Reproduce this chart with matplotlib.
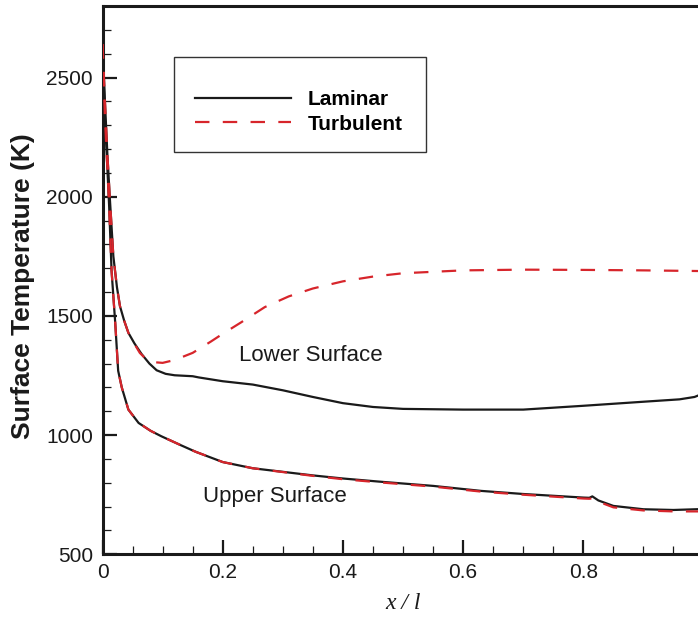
import numpy as np
import matplotlib
matplotlib.use("Agg")
import matplotlib.pyplot as plt
from matplotlib.ticker import MultipleLocator
from matplotlib.patches import Rectangle

# Lower surface, laminar
lower_lam_x = [0.0, 0.004, 0.008, 0.012, 0.018, 0.024, 0.029, 0.036, 0.043, 0.053, 0.065,
               0.078, 0.09, 0.105, 0.12, 0.15, 0.16, 0.2, 0.25, 0.3, 0.35, 0.4, 0.45, 0.5,
               0.6, 0.7, 0.8, 0.9, 0.96, 0.985, 1.0]
lower_lam_T = [2640, 2400, 2180, 2000, 1750, 1620, 1541, 1480, 1429, 1385, 1340,
               1300, 1272, 1257, 1251, 1247, 1242, 1226, 1212, 1188, 1160, 1134, 1118, 1110,
               1107, 1107, 1123, 1140, 1150, 1160, 1175]

# Lower surface, turbulent
lower_turb_x = [0.0, 0.004, 0.008, 0.012, 0.018, 0.024, 0.029, 0.036, 0.043, 0.053, 0.062,
                0.072, 0.085, 0.1, 0.12, 0.15, 0.18, 0.2, 0.23, 0.27, 0.31, 0.35, 0.4,
                0.45, 0.5, 0.6, 0.7, 0.8, 0.9, 1.0]
lower_turb_T = [2640, 2400, 2180, 2000, 1750, 1620, 1541, 1480, 1429, 1383, 1345,
                1320, 1306, 1303, 1315, 1345, 1392, 1425, 1472, 1537, 1582, 1615, 1645,
                1665, 1679, 1691, 1694, 1693, 1691, 1688]

# Upper surface, laminar
upper_lam_x = [0.0, 0.004, 0.008, 0.011, 0.015, 0.021, 0.026, 0.032, 0.043, 0.06, 0.08,
               0.098, 0.13, 0.155, 0.2, 0.25, 0.3, 0.35, 0.4, 0.46, 0.55, 0.63, 0.7,
               0.8, 0.81, 0.815, 0.825, 0.85, 0.9, 0.95, 1.0]
upper_lam_T = [2640, 2330, 2120, 1960, 1690, 1475, 1270, 1200, 1107, 1051, 1018,
               995, 958, 930, 887, 861, 846, 831, 818, 805, 787, 766, 753,
               738, 737, 743, 726, 703, 689, 686, 690]

# Upper surface, turbulent
upper_turb_x = [0.0, 0.004, 0.008, 0.011, 0.015, 0.021, 0.026, 0.032, 0.043, 0.06, 0.08,
                0.098, 0.13, 0.155, 0.2, 0.25, 0.3, 0.35, 0.4, 0.46, 0.55, 0.63, 0.7,
                0.8, 0.81, 0.815, 0.83, 0.85, 0.9, 0.95, 1.0]
upper_turb_T = [2640, 2330, 2120, 1960, 1690, 1475, 1270, 1200, 1107, 1051, 1018,
                995, 958, 930, 887, 861, 845, 829, 815, 802, 784, 763, 750,
                734, 733, 735, 716, 697, 684, 680, 680]

plt.rcParams['font.family'] = ['Liberation Sans', 'DejaVu Sans']

fig = plt.figure(figsize=(6.98, 6.17), dpi=100)
# axes runs past the right edge of the figure, like the cropped original
ax = fig.add_axes([0.1469, 0.1016, 0.861, 0.8887])

black = '#1a1a1a'
red = '#d7252b'
ax.plot(lower_lam_x, lower_lam_T, color=black, lw=1.6, label='Laminar', zorder=3)
ax.plot(upper_lam_x, upper_lam_T, color=black, lw=1.6, zorder=3)
ax.plot(lower_turb_x, lower_turb_T, color=red, lw=1.6, ls=(0, (6.5, 6.0)),
        label='Turbulent', zorder=4)
ax.plot(upper_turb_x, upper_turb_T, color=red, lw=1.6, ls=(0, (6.5, 6.0)), zorder=4)

ax.set_xlim(0, 1.0)
ax.set_ylim(500, 2800)

ax.xaxis.set_major_locator(MultipleLocator(0.2))
ax.xaxis.set_minor_locator(MultipleLocator(0.05))
ax.yaxis.set_major_locator(MultipleLocator(500))
ax.yaxis.set_minor_locator(MultipleLocator(100))
ax.set_xticks([0, 0.2, 0.4, 0.6, 0.8])
ax.set_xticklabels(['0', '0.2', '0.4', '0.6', '0.8'])

ax.tick_params(which='major', direction='in', length=10, width=1.6,
               labelsize=15, color=black, labelcolor=black)
ax.tick_params(which='minor', direction='in', length=6, width=0.9, color=black)
ax.tick_params(axis='y', which='major', pad=7)
ax.tick_params(axis='x', which='major', pad=6)

for side in ['left', 'bottom', 'top', 'right']:
    ax.spines[side].set_linewidth(2.2)
    ax.spines[side].set_color(black)

ax.set_ylabel('Surface Temperature (K)', fontsize=19, fontweight='bold', color=black)
ax.yaxis.set_label_coords(-0.113, 0.49)
ax.set_xlabel('x / l', fontsize=17, style='italic', family='Liberation Serif', color=black)
ax.xaxis.set_label_coords(0.5, -0.07)

ax.text(0.227, 1333, 'Lower Surface', fontsize=16, color=black, va='center', ha='left')
ax.text(0.167, 741, 'Upper Surface', fontsize=16, color=black, va='center', ha='left')

# legend box drawn separately so the entries can sit low inside it
ax.add_patch(Rectangle((0.119, 0.734), 0.419, 0.173, transform=ax.transAxes,
                       facecolor='white', edgecolor='#333333', lw=1.0, zorder=5))
leg = ax.legend(loc='upper left', bbox_to_anchor=(0.154, 0.846), borderaxespad=0,
                frameon=False, handlelength=4.6, handletextpad=0.8,
                labelspacing=0.25, borderpad=0, prop={'weight': 'bold', 'size': 15})
leg.set_zorder(6)

fig.savefig('out.png', dpi=100)
